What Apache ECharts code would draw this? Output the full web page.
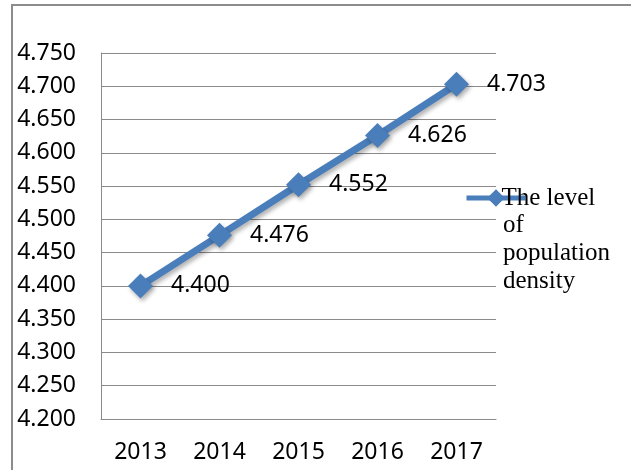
<!DOCTYPE html>
<html>
<head>
<meta charset="utf-8">
<script src="https://cdn.jsdelivr.net/npm/echarts@6/dist/echarts.min.js"></script>
<style>html,body{margin:0;padding:0;background:#fff}#c{width:631px;height:470px}</style>
</head>
<body>
<div id="c"></div>
<script>
const categories = ['2013', '2014', '2015', '2016', '2017'];
const densityValues = [4.400, 4.476, 4.552, 4.626, 4.703];
const seriesName = 'The level of population density';
const legendLines = ['The level', 'of', 'population', 'density'];
const yMin = 4.2, yMax = 4.75, yStep = 0.05;

const chart = echarts.init(document.getElementById('c'), null, {renderer: 'canvas'});
const blue = '#4a7ebb';
const gridGray = '#8a8a8a';
const sans = '"Noto Sans", "Liberation Sans", sans-serif';
const serif = '"Liberation Serif", "Times New Roman", serif';

chart.setOption({
  animation: false,
  backgroundColor: '#fff',
  grid: {left: 101, right: 135, top: 53, bottom: 51},
  graphic: [{
    type: 'rect', silent: true, z: -1,
    shape: {x: 12, y: 5, width: 700, height: 600},
    style: {fill: 'none', stroke: '#8c8c8c', lineWidth: 2}
  }, {
    type: 'text', silent: true, left: 503, top: 211,
    style: {
      text: legendLines.slice(1).join('\n'),
      font: '25px ' + serif, lineHeight: 28, fill: '#000'
    }
  }],
  legend: {
    left: 459, top: 179,
    itemWidth: 59, itemHeight: 22, itemGap: 4,
    lineStyle: {width: 5},
    formatter: function () { return legendLines[0]; },
    textStyle: {
      fontFamily: serif, fontSize: 25, lineHeight: 28, color: '#000',
      padding: [0, 0, 0, -29]
    },
    data: [seriesName]
  },
  xAxis: {
    type: 'category', data: categories, boundaryGap: true,
    axisLine: {show: true, lineStyle: {color: gridGray, width: 1}},
    axisTick: {show: false},
    axisLabel: {color: '#000', fontFamily: sans, fontSize: 23, margin: 22}
  },
  yAxis: {
    type: 'value', min: yMin, max: yMax, interval: yStep,
    axisLine: {show: true, lineStyle: {color: gridGray, width: 1}},
    axisTick: {show: false},
    splitLine: {show: true, lineStyle: {color: gridGray, width: 1}},
    axisLabel: {
      color: '#000', fontFamily: sans, fontSize: 23, margin: 25,
      formatter: function (v) { return v.toFixed(3); }
    }
  },
  series: [{
    name: seriesName,
    type: 'line',
    data: densityValues,
    symbol: 'diamond', symbolSize: 25,
    lineStyle: {color: blue, width: 7, shadowColor: 'rgba(0,0,0,0.3)', shadowBlur: 4, shadowOffsetX: 2, shadowOffsetY: 3},
    itemStyle: {color: blue, borderWidth: 0, shadowColor: 'rgba(0,0,0,0.3)', shadowBlur: 4, shadowOffsetX: 2, shadowOffsetY: 3},
    label: {
      show: true, position: 'right', distance: 18,
      fontFamily: sans, fontSize: 23, color: '#000',
      formatter: function (p) { return p.value.toFixed(3); }
    }
  }]
});
</script>
</body>
</html>
